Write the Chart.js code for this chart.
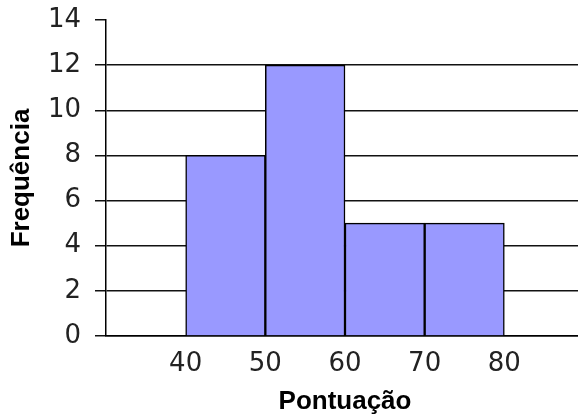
<!DOCTYPE html>
<html>
<head>
<meta charset="utf-8">
<script src="https://cdn.jsdelivr.net/npm/chart.js@4/dist/chart.umd.min.js"></script>
<style>
  html, body { margin: 0; padding: 0; background: #fff; overflow: hidden; }
  #wrap { width: 586px; height: 417px; }
</style>
</head>
<body>
<div id="wrap"><canvas id="histChart" width="586" height="417"></canvas></div>
<script>
// class midpoints and frequencies
const classMids = [45, 55, 65, 75];
const frequencies = [8, 12, 5, 5];
const xTickLabels = [40, 50, 60, 70, 80];

document.addEventListener("DOMContentLoaded", () => {
    const ctx = document.getElementById('histChart').getContext('2d');

    new Chart(ctx, {
        type: 'bar',
        data: {
            datasets: [{
                data: classMids.map((m, i) => ({x: m, y: frequencies[i]})),
                backgroundColor: '#9999ff',
                borderColor: '#000',
                borderWidth: 1.5,
                barPercentage: 1,
                categoryPercentage: 1
            }]
        },
        options: {
            responsive: false,
            animation: false,
            layout: { padding: { top: 20, right: 2, left: 0, bottom: 0 } },
            plugins: { legend: { display: false }, tooltip: { enabled: false } },
            scales: {
                x: {
                    type: 'linear',
                    offset: false,
                    min: 30,
                    max: 90,
                    afterBuildTicks: axis => {
                        axis.ticks = xTickLabels.map(v => ({value: v}));
                    },
                    afterFit: axis => {
                        axis.height = 81;
                        axis.paddingLeft = 0;
                        axis.paddingRight = 0;
                    },
                    grid: { display: false, offset: false },
                    border: { color: '#000', width: 1.5 },
                    ticks: {
                        padding: 5,
                        color: '#222',
                        maxRotation: 0,
                        font: { family: 'DejaVu Sans', size: 26 }
                    },
                    title: {
                        display: true,
                        text: 'Pontuação',
                        color: '#000',
                        padding: { top: 2, bottom: 0 },
                        font: { family: 'Liberation Sans', size: 26, weight: 'bold' }
                    }
                },
                y: {
                    min: 0,
                    max: 14,
                    afterFit: axis => {
                        axis.width = 106;
                        // let the top label overhang the plot area
                        axis.paddingTop = 0;
                        axis.paddingBottom = 0;
                    },
                    grid: {
                        color: c => (c.tick && c.tick.value === 14) ? 'rgba(0,0,0,0)' : '#111',
                        tickColor: '#111',
                        lineWidth: 1.5,
                        tickLength: 11
                    },
                    border: { color: '#000', width: 1.5 },
                    ticks: {
                        stepSize: 2,
                        padding: 14,
                        color: '#222',
                        font: { family: 'DejaVu Sans', size: 26 }
                    },
                    title: {
                        display: true,
                        text: 'Frequência',
                        color: '#000',
                        padding: { top: 6, bottom: 0 },
                        font: { family: 'Liberation Sans', size: 26, weight: 'bold' }
                    }
                }
            }
        }
    });
});
</script>
</body>
</html>
